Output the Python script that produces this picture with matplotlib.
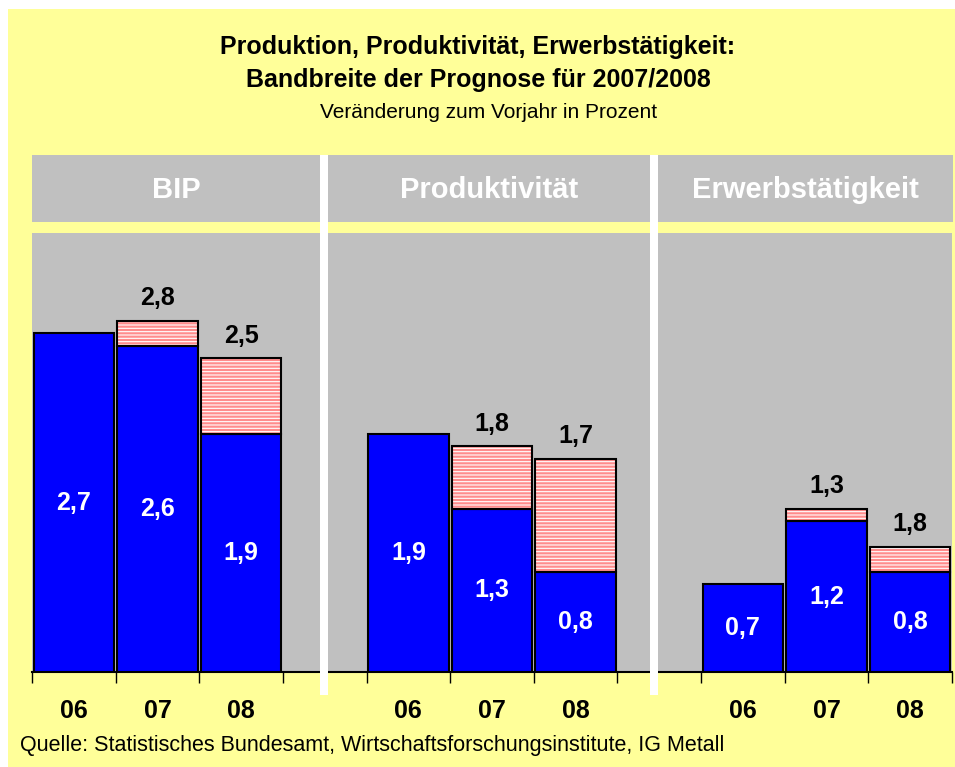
import matplotlib
matplotlib.use("Agg")
import matplotlib.pyplot as plt
from matplotlib.patches import Rectangle

plt.rcParams['font.family'] = ['Liberation Sans', 'DejaVu Sans']
plt.rcParams['hatch.linewidth'] = 0.8

# ---- data ----
groups = ["BIP", "Produktivität", "Erwerbstätigkeit"]
years = ["06", "07", "08"]
base_values = [[2.7, 2.6, 1.9], [1.9, 1.3, 0.8], [0.7, 1.2, 0.8]]      # lower bound (blue)
upper_values = [[None, 2.8, 2.5], [None, 1.8, 1.7], [None, 1.3, 1.0]]  # upper bound (range top)
base_labels = [["2,7", "2,6", "1,9"], ["1,9", "1,3", "0,8"], ["0,7", "1,2", "0,8"]]
upper_labels = [[None, "2,8", "2,5"], [None, "1,8", "1,7"], [None, "1,3", "1,8"]]

title1 = "Produktion, Produktivität, Erwerbstätigkeit:"
title2 = "Bandbreite der Prognose für 2007/2008"
subtitle = "Veränderung zum Vorjahr in Prozent"
source = "Quelle: Statistisches Bundesamt, Wirtschaftsforschungsinstitute, IG Metall"

W, H = 955, 767
fig = plt.figure(figsize=(W / 100, H / 100), dpi=100)
fig.patch.set_facecolor("white")

def fx(px):
    return px / W

def fy(py):
    return 1 - py / H

# yellow background
fig.patches.append(Rectangle((fx(8), 0), 1 - fx(8), fy(9), transform=fig.transFigure,
                             facecolor="#FFFF99", edgecolor="none", zorder=0))
# header band
fig.patches.append(Rectangle((fx(32), fy(222)), fx(953 - 32), (222 - 155) / H,
                             transform=fig.transFigure, facecolor="#C0C0C0",
                             edgecolor="none", zorder=1))

ax = fig.add_axes([fx(32), fy(672), fx(952 - 32), (672 - 233) / H])
ax.set_facecolor("#C0C0C0")
ax.set_zorder(2)

bw = 0.96
for g in range(3):
    for j in range(3):
        x = g * 4 + j
        b = base_values[g][j]
        ax.bar(x, b, width=bw, color="#0000FF", edgecolor="black", linewidth=1.5, zorder=3)
        ax.text(x, b / 2, base_labels[g][j], ha="center", va="center", color="white",
                fontsize=18, fontweight="bold", zorder=5)
        u = upper_values[g][j]
        if u is not None:
            ax.bar(x, u - b, bottom=b, width=bw, color="#FF8C8C", edgecolor="white",
                   hatch="-----", linewidth=0, zorder=3)
            ax.bar(x, u - b, bottom=b, width=bw, fill=False, edgecolor="black",
                   linewidth=1.5, zorder=4)
            ax.text(x, u + 0.18, upper_labels[g][j], ha="center", va="center", color="black",
                    fontsize=18, fontweight="bold", zorder=5)

ax.set_xlim(-0.5, 10.5)
ax.set_ylim(0, 3.5)
ax.set_yticks([])
ax.set_xticks([i - 0.5 for i in range(12)])
ax.set_xticklabels([])
ax.tick_params(axis="x", direction="out", length=8, width=1, color="black")
for s in ["left", "right", "top"]:
    ax.spines[s].set_visible(False)
ax.spines["bottom"].set_linewidth(1.5)

# category labels
for g in range(3):
    for j in range(3):
        x = g * 4 + j
        ax.text(x, -0.31, years[j], transform=ax.transData, ha="center", va="center",
                fontsize=18, fontweight="bold", color="black", clip_on=False)

# separators
for sx in [324, 654]:
    fig.patches.append(Rectangle((fx(sx - 4), fy(695)), fx(8), (695 - 155) / H,
                                 transform=fig.transFigure, facecolor="white",
                                 edgecolor="none", zorder=10))

# header labels
for name, cx in zip(groups, [176, 489, 805]):
    fig.text(fx(cx), fy(190), name, ha="center", va="center", color="white",
             fontsize=21, fontweight="bold")

fig.text(fx(478), fy(47), title1, ha="center", va="center", fontsize=18, fontweight="bold")
fig.text(fx(478), fy(80), title2, ha="center", va="center", fontsize=18, fontweight="bold")
fig.text(fx(489), fy(113), subtitle, ha="center", va="center", fontsize=15)
fig.text(fx(20), fy(746), source, ha="left", va="center", fontsize=15.5)

fig.savefig("out.png", dpi=100, facecolor=fig.get_facecolor())
